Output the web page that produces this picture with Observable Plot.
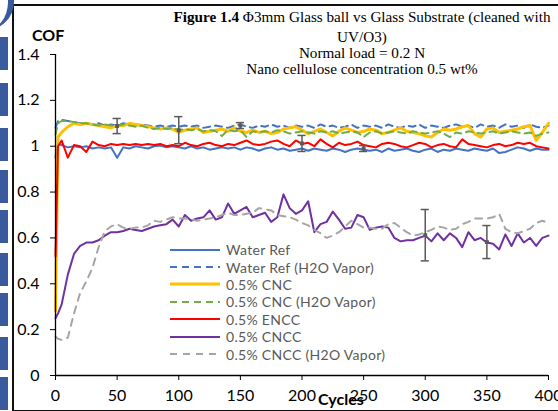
<!DOCTYPE html>
<html>
<head>
<meta charset="utf-8">
<script src="https://cdn.jsdelivr.net/npm/d3@7"></script>
<script src="https://cdn.jsdelivr.net/npm/@observablehq/plot@0.6"></script>
<style>
  html, body { margin: 0; padding: 0; background: #fff; overflow: hidden; }
  #wrap { position: relative; width: 558px; height: 411px; overflow: hidden; }
  #chart { position: absolute; left: 0; top: 0; }
  .bar { position: absolute; left: 0; width: 8px; background: #3A5A9E; }
  .title { position: absolute; left: 112px; width: 500px; text-align: center; white-space: nowrap;
           font-family: "Liberation Serif", "Times New Roman", serif; font-size: 15.2px; color: #000; line-height: 16px; }
  .lab { position: absolute; font-family: Lato, sans-serif; font-weight: bold; font-size: 16px; color: #000; }
  #legend { position: absolute; left: 170px; top: 241px; font-family: Lato, sans-serif; font-size: 14px; color: #595959; }
  .li { height: 17.4px; display: flex; align-items: center; white-space: nowrap; letter-spacing: 0.3px; }
  .li svg { margin-right: 6px; }
</style>
</head>
<body>
<div id="wrap">
  <div id="chart"></div>
</div>
<script>
const cycles = [0,2,5,10,15,20,25,30,35,40,45,50,55,60,65,70,75,80,85,90,95,100,
  105,110,115,120,125,130,135,140,145,150,155,160,165,170,175,180,185,190,195,200,
  205,210,215,220,225,230,235,240,245,250,255,260,265,270,275,280,285,290,295,300,
  305,310,315,320,325,330,335,340,345,350,355,360,365,370,375,380,385,390,395,400];

const waterRef = [0.95,1.01,
  1.005,0.995,1.0,0.995,1.0,0.99,0.995,0.99,0.995,0.95,
  0.995,0.99,1.0,0.995,0.99,1.0,1.003,0.995,1.0,0.995,
  0.99,1.0,0.99,0.995,0.985,0.99,0.995,0.99,0.995,0.985,
  0.995,0.99,0.98,0.99,0.995,0.985,0.99,0.98,0.985,0.99,
  0.98,0.99,0.985,0.98,0.99,0.985,0.975,0.985,0.99,0.985,
  0.98,0.985,0.975,0.99,0.98,0.985,0.99,0.98,0.975,0.985,
  0.99,0.975,0.985,0.98,0.99,0.985,0.98,0.99,0.985,0.98,
  0.99,0.97,0.975,0.985,0.995,0.99,0.98,0.99,0.985,0.985];

const waterRefVapor = [1.08,1.11,
  1.115,1.11,1.105,1.10,1.10,1.095,1.10,1.09,1.095,1.09,
  1.10,1.095,1.09,1.095,1.09,1.085,1.09,1.085,1.09,1.085,
  1.09,1.085,1.09,1.08,1.085,1.09,1.085,1.08,1.09,1.095,
  1.085,1.08,1.09,1.085,1.095,1.085,1.09,1.08,1.09,1.085,
  1.09,1.08,1.095,1.085,1.09,1.08,1.085,1.095,1.08,1.09,
  1.085,1.09,1.08,1.095,1.085,1.08,1.09,1.085,1.095,1.08,
  1.09,1.085,1.08,1.09,1.095,1.085,1.09,1.08,1.095,1.085,
  1.09,1.08,1.095,1.085,1.09,1.08,1.095,1.085,1.08,1.09];

const cnc = [0.28,1.04,
  1.06,1.085,1.10,1.095,1.10,1.095,1.09,1.085,1.08,1.09,
  1.09,1.10,1.095,1.09,1.085,1.08,1.075,1.08,1.075,1.06,
  1.07,1.075,1.08,1.06,1.065,1.07,1.075,1.065,1.08,1.065,
  1.06,1.07,1.06,1.065,1.055,1.06,1.075,1.08,1.085,1.07,
  1.055,1.065,1.075,1.06,1.045,1.065,1.08,1.07,1.06,1.065,
  1.075,1.07,1.055,1.06,1.07,1.08,1.065,1.06,1.055,1.045,
  1.04,1.06,1.075,1.07,1.075,1.085,1.09,1.055,1.04,1.075,
  1.08,1.06,1.065,1.07,1.075,1.085,1.09,1.025,1.06,1.10];

const cncVapor = [1.05,1.10,
  1.11,1.11,1.105,1.10,1.10,1.095,1.09,1.095,1.09,1.09,
  1.095,1.09,1.085,1.09,1.08,1.075,1.08,1.075,1.08,1.07,
  1.075,1.07,1.075,1.065,1.07,1.065,1.045,1.07,1.065,1.07,
  1.04,1.065,1.06,1.065,1.06,1.07,1.065,1.055,1.06,1.065,
  1.06,1.055,1.065,1.06,1.065,1.055,1.06,1.065,1.06,1.04,
  1.06,1.065,1.055,1.06,1.065,1.06,1.055,1.065,1.06,1.055,
  1.06,1.065,1.055,1.04,1.06,1.055,1.065,1.06,1.055,1.06,
  1.065,1.055,1.06,1.065,1.06,1.055,1.06,1.045,1.055,1.06];

const encc = [0.52,1.0,
  1.025,0.95,1.005,1.0,0.975,1.02,1.005,1.0,1.01,1.005,
  1.01,1.005,1.01,1.005,1.01,1.005,1.01,1.0,1.005,1.0,
  1.015,1.005,1.0,1.01,1.015,1.005,1.0,1.01,1.005,1.015,
  1.025,1.01,1.005,1.01,1.02,1.025,1.01,1.0,1.025,1.01,
  1.015,1.0,1.03,1.01,0.995,1.015,1.005,1.01,1.02,1.005,
  1.0,0.995,1.01,1.015,1.01,1.0,0.995,1.005,1.015,1.01,
  0.995,1.005,1.01,1.0,0.995,1.03,1.01,1.005,1.0,0.995,
  1.005,1.01,1.0,1.005,1.015,1.01,1.015,1.0,0.995,0.99];

const cncc = [0.25,0.27,
  0.31,0.44,0.53,0.565,0.58,0.58,0.59,0.61,0.625,0.625,
  0.63,0.64,0.635,0.63,0.64,0.65,0.655,0.66,0.68,0.65,
  0.70,0.675,0.685,0.69,0.72,0.68,0.69,0.75,0.705,0.72,
  0.735,0.69,0.70,0.71,0.67,0.69,0.79,0.73,0.705,0.72,
  0.76,0.625,0.66,0.67,0.715,0.68,0.64,0.645,0.70,0.69,
  0.635,0.645,0.65,0.645,0.60,0.585,0.59,0.59,0.60,0.61,
  0.585,0.62,0.59,0.62,0.60,0.56,0.625,0.59,0.60,0.58,
  0.575,0.55,0.615,0.565,0.62,0.58,0.60,0.565,0.60,0.61];

const ccncVapor = [0.17,0.16,
  0.155,0.165,0.27,0.36,0.41,0.47,0.56,0.63,0.65,0.66,
  0.645,0.64,0.645,0.645,0.655,0.675,0.67,0.68,0.69,0.685,
  0.685,0.68,0.675,0.68,0.685,0.69,0.70,0.71,0.70,0.70,
  0.705,0.71,0.73,0.725,0.72,0.70,0.695,0.69,0.68,0.665,
  0.655,0.635,0.62,0.60,0.61,0.625,0.65,0.675,0.66,0.645,
  0.645,0.64,0.64,0.66,0.665,0.645,0.625,0.61,0.615,0.625,
  0.635,0.65,0.645,0.635,0.64,0.66,0.67,0.685,0.685,0.685,
  0.69,0.705,0.64,0.625,0.62,0.63,0.64,0.665,0.675,0.665];

// error bars: cycle, mean, half-range
const errX = [50, 100, 150, 200, 250, 300, 350];
const errY = [1.088, 1.07, 1.09, 1.012, 0.99, 0.612, 0.582];
const errE = [0.033, 0.059, 0.013, 0.035, 0.013, 0.112, 0.072];

const xTicks = [0,50,100,150,200,250,300,350,400];
const yTicks = [0,0.2,0.4,0.6,0.8,1,1.2,1.4];

const seriesNames = ["Water Ref","Water Ref (H2O Vapor)","0.5% CNC","0.5% CNC (H2O Vapor)","0.5% ENCC","0.5% CNCC","0.5% CNCC (H2O Vapor)"];
const seriesValues = [waterRef, waterRefVapor, cnc, cncVapor, encc, cncc, ccncVapor];
const seriesColors = ["#4472C4","#4472C4","#FFC000","#70AD47","#FF0000","#7030A0","#A5A5A5"];
const seriesWidths = [2,2,3,2,2,2,2];
const seriesDash = [null,"7,5",null,"7,5",null,null,"7,6"];

const lineMarks = seriesValues.map((vals, k) => {
  const data = cycles.map((c, i) => ({c, v: vals[i]}));
  return Plot.line(data, {x: "c", y: "v", stroke: seriesColors[k], strokeWidth: seriesWidths[k],
    strokeDasharray: seriesDash[k] || undefined, strokeLinejoin: "round"});
});

const errData = errX.map((x, i) => ({x, y: errY[i], lo: errY[i] - errE[i], hi: errY[i] + errE[i]}));

const plot = Plot.plot({
  width: 558, height: 411,
  marginLeft: 55, marginRight: 10, marginTop: 54, marginBottom: 36,
  style: {fontFamily: "Lato, sans-serif", fontSize: "16px", color: "#000", background: "transparent"},
  x: {domain: [0, 400]},
  y: {domain: [0, 1.4]},
  marks: [
    ...lineMarks,
    Plot.ruleX(errData, {x: "x", y1: "lo", y2: "hi", stroke: "#595959", strokeWidth: 1.5}),
    Plot.ruleY(errData, {y: "lo", x1: d => d.x - 3.3, x2: d => d.x + 3.3, stroke: "#595959", strokeWidth: 1.5}),
    Plot.ruleY(errData, {y: "hi", x1: d => d.x - 3.3, x2: d => d.x + 3.3, stroke: "#595959", strokeWidth: 1.5}),
    Plot.dot(errData, {x: "x", y: "y", symbol: "square", r: 2.2, fill: "#595959"}),
    Plot.ruleX([0], {stroke: "#000", strokeWidth: 1.3}),
    Plot.ruleY([0], {stroke: "#000", strokeWidth: 1.3}),
    Plot.axisY({ticks: yTicks, tickSize: 5, tickPadding: 11, label: null, tickFormat: d3.format("")}),
    Plot.axisX({ticks: xTicks, tickSize: 5, tickPadding: 9, label: null, tickFormat: d3.format("")})
  ]
});
document.getElementById("chart").appendChild(plot);

const wrap = document.getElementById("wrap");
function add(html) { wrap.insertAdjacentHTML("beforeend", html); }

// frame
add('<div style="position:absolute;left:12px;top:4px;width:600px;height:404px;border:2px solid #111;border-right:none;box-sizing:content-box"></div>');
// decorative blue bars on left
const barTops = [37, 83, 128, 170, 210, 253, 293, 337, 377];
barTops.forEach(t => add(`<div class="bar" style="top:${t}px;height:33px"></div>`));
add('<div style="position:absolute;left:-14px;top:-40px;width:22px;height:70px;border-right:6px solid #3A5A9E;border-radius:0 0 60px 0"></div>');

// titles
add('<div class="title" style="top:9px"><b>Figure 1.4</b> \u03A63mm Glass ball vs Glass Substrate (cleaned with</div>');
add('<div class="title" style="top:29px">UV/O3)</div>');
add('<div class="title" style="top:45px">Normal load = 0.2 N</div>');
add('<div class="title" style="top:61px">Nano cellulose concentration 0.5 wt%</div>');
add('<div class="lab" style="left:32px;top:25px">COF</div>');
add('<div class="lab" style="left:318px;top:389px">Cycles</div>');

// legend
let lg = '<div id="legend">';
seriesNames.forEach((n, k) => {
  lg += `<div class="li"><svg width="50" height="6"><line x1="0" x2="50" y1="3" y2="3" stroke="${seriesColors[k]}" stroke-width="${seriesWidths[k]}" ${seriesDash[k] ? `stroke-dasharray="${seriesDash[k]}"` : ""}/></svg><span>${n}</span></div>`;
});
lg += '</div>';
add(lg);
</script>
</body>
</html>
